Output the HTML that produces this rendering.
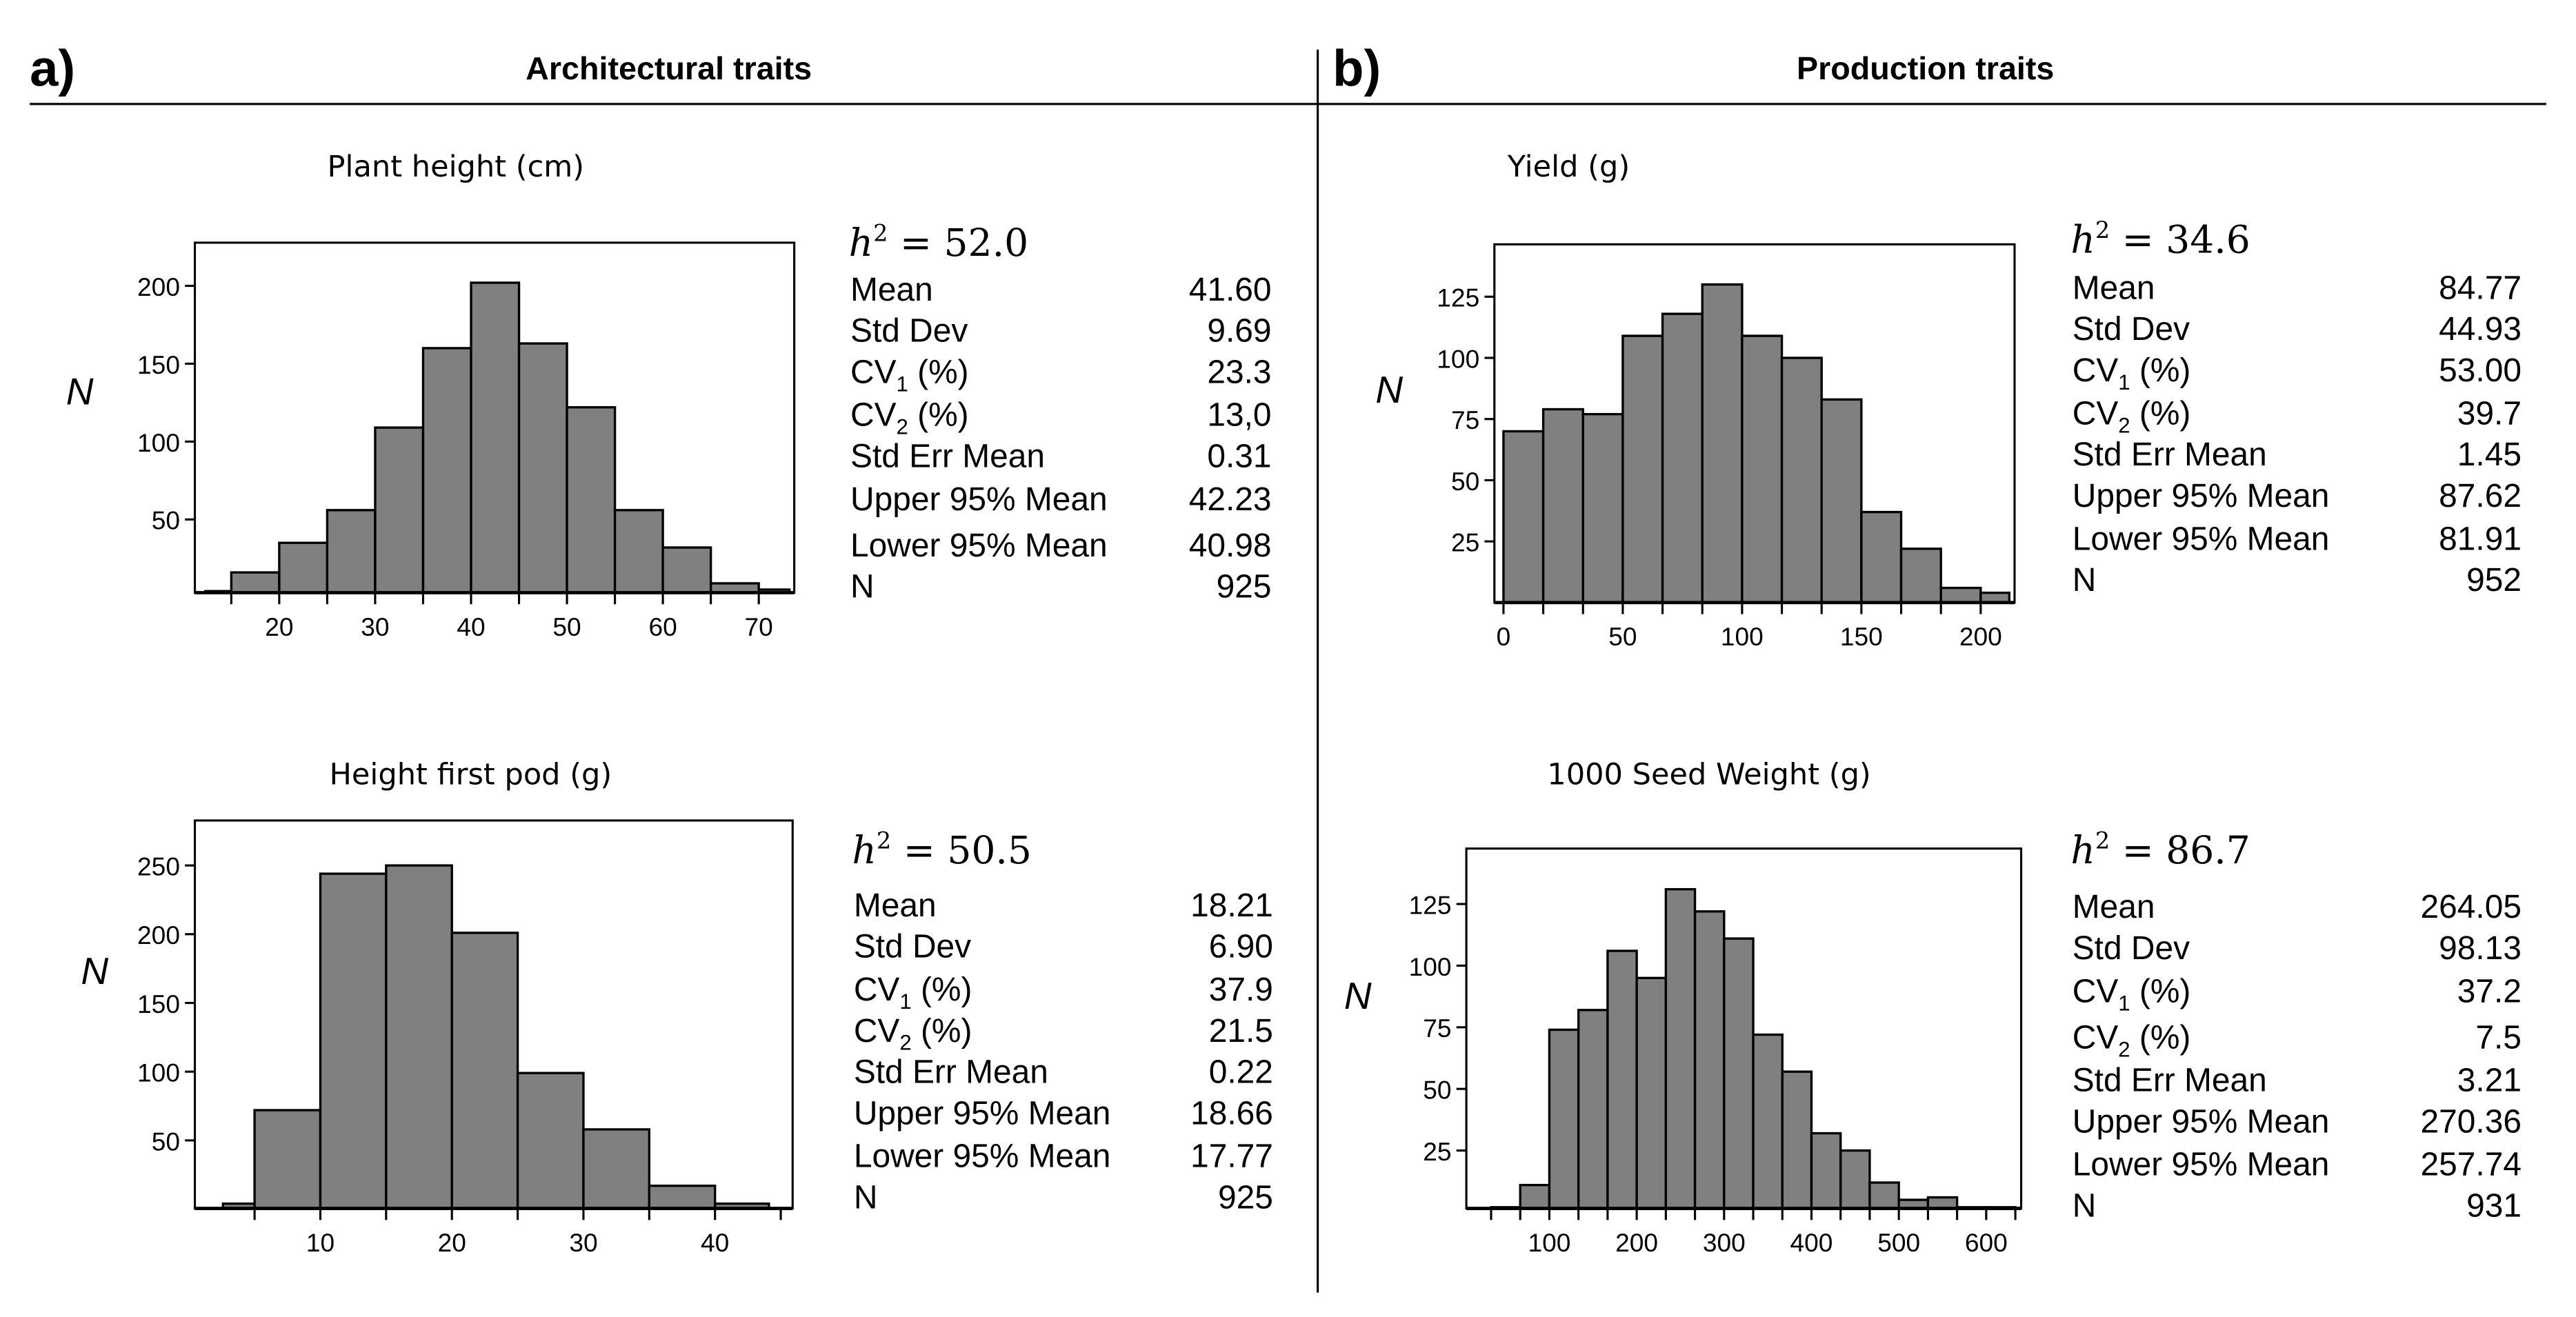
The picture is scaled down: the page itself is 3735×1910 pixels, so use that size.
<!DOCTYPE html>
<html><head><meta charset="utf-8">
<style>
html,body{margin:0;padding:0;background:#fff;}
svg{display:block;}
text{font-family:"Liberation Sans",Arial,sans-serif;fill:#000;}
.tk{font-size:15.5px;}
.st{font-size:20px;}
.ttl{font-size:18px;font-family:"DejaVu Sans","Liberation Sans",sans-serif;}
</style></head>
<body>
<svg id="fig" width="3735" height="1910" viewBox="0 0 1560 797.75" xmlns="http://www.w3.org/2000/svg">
<text x="18" y="52" style="font-size:31px;font-weight:bold">a)</text>
<text x="405" y="48" text-anchor="middle" style="font-size:19.5px;font-weight:bold">Architectural traits</text>
<text x="807" y="52" style="font-size:31px;font-weight:bold">b)</text>
<text x="1166" y="48" text-anchor="middle" style="font-size:19.5px;font-weight:bold">Production traits</text>
<line x1="18" y1="63" x2="1542" y2="63" stroke="#000" stroke-width="1.3"/>
<line x1="798" y1="30" x2="798" y2="783" stroke="#000" stroke-width="1.3"/>
<g id="charts"></g>
</svg>
<script>
// Plant height
const phCounts=[4,16,35,56,109,160,202,163,122,56,32,9,5];
const phStart=10, phWidth=5;
// Yield
const yCounts=[70,79,77,109,118,130,109,100,83,37,22,6,4];
const yStart=0, yWidth=16.667;
// Height first pod
const hpCounts=[4,72,244,250,201,99,58,17,4];
const hpStart=0, hpWidth=5;
// 1000 seed weight
const swCounts=[2,11,74,82,106,95,131,122,111,72,57,32,25,12,5,6,2,2];
const swStart=33.333, swWidth=33.333;

const phXLabels=[20,30,40,50,60,70], phYLabels=[50,100,150,200];
const yXLabels=[0,50,100,150,200], yYLabels=[25,50,75,100,125];
const hpXLabels=[10,20,30,40], hpYLabels=[50,100,150,200,250];
const swXLabels=[100,200,300,400,500,600], swYLabels=[25,50,75,100,125];

const phStats=["41.60","9.69","23.3","13,0","0.31","42.23","40.98","925"];
const yStats=["84.77","44.93","53.00","39.7","1.45","87.62","81.91","952"];
const hpStats=["18.21","6.90","37.9","21.5","0.22","18.66","17.77","925"];
const swStats=["264.05","98.13","37.2","7.5","3.21","270.36","257.74","931"];

const NS="http://www.w3.org/2000/svg";
const root=document.getElementById('charts');
function mk(tag,attrs,parent){const e=document.createElementNS(NS,tag);for(const k in attrs)e.setAttribute(k,attrs[k]);(parent||root).appendChild(e);return e;}

function chart(cfg){
  const g=mk('g',{});
  
  
  const L=cfg.box[0],T=cfg.box[1],R=cfg.box[2],B=cfg.box[3];
  const xs=v=>L+(v-cfg.xd[0])/(cfg.xd[1]-cfg.xd[0])*(R-L);
  const ys=v=>B-(v-cfg.yd[0])/(cfg.yd[1]-cfg.yd[0])*(B-T);
  const t=mk('text',{x:cfg.title[1],y:cfg.title[2],'text-anchor':'middle',class:'ttl'},g);
  t.textContent=cfg.title[0];
  
  
  cfg.counts.forEach((c,i)=>{
    let a=cfg.start+i*cfg.width,b=a+cfg.width;
    a=Math.max(a,cfg.clip[0]);b=Math.min(b,cfg.clip[1]);
    const r=mk('rect',{x:xs(a),y:ys(c),width:xs(b)-xs(a),height:B-ys(c),fill:'#808080',stroke:'#000','stroke-width':1.4},g);
    
    
  });
  const f=mk('rect',{x:L,y:T,width:R-L,height:B-T,fill:'none',stroke:'#000','stroke-width':1.3},g);
  
  
  mk('line',{x1:L,y1:B,x2:R,y2:B,stroke:'#000','stroke-width':2},g);
  for(let v=cfg.tickStart;v<=cfg.xd[1]+1e-6;v+=cfg.tickStep){
    if(v<cfg.xd[0])continue;
    mk('line',{x1:xs(v),y1:B,x2:xs(v),y2:B+7,stroke:'#000','stroke-width':1.3},g);
  }
  cfg.xl.forEach(v=>{
    const e=mk('text',{x:xs(v),y:B+26,'text-anchor':'middle',class:'tk'},g);e.textContent=v;
    
    
  });
  cfg.yl.forEach(v=>{
    mk('line',{x1:L-6,y1:ys(v),x2:L,y2:ys(v),stroke:'#000','stroke-width':1.3},g);
    const e=mk('text',{x:L-9,y:ys(v)+6,'text-anchor':'end',class:'tk'},g);e.textContent=v;
    
    
  });
  const n=mk('text',{x:cfg.nPos[0],y:cfg.nPos[1],style:'font-size:23px;font-style:italic'},g);n.textContent='N';
  
  
  const sg=mk('g',{},g);
  
  
  const h=mk('text',{x:cfg.sx,y:cfg.hy,style:'font-size:23px;font-family:\"DejaVu Serif\",\"Liberation Serif\",serif'},sg);
  h.innerHTML='<tspan font-style="italic">h</tspan><tspan dy="-9" style="font-size:14px">2</tspan><tspan dy="9"> = '+cfg.h2+'</tspan>';
  
  
  const labels=['Mean','Std Dev','CV<tspan dy="5" style="font-size:13px">1</tspan><tspan dy="-5"> (%)</tspan>','CV<tspan dy="5" style="font-size:13px">2</tspan><tspan dy="-5"> (%)</tspan>','Std Err Mean','Upper 95% Mean','Lower 95% Mean','N'];
  cfg.stats.forEach((v,i)=>{
    const y=cfg.rows[i];
    const a=mk('text',{x:cfg.sx+1,y:y,class:'st'},sg);a.innerHTML=labels[i];
    
    
    const b=mk('text',{x:cfg.vx,y:y,class:'st','text-anchor':'end'},sg);b.textContent=v;
    
    
  });
}

chart({name:'plant-height',box:[118,147,481,359],xd:[11.2,73.7],yd:[3,227.7],counts:phCounts,start:phStart,width:phWidth,clip:[12.3,73.2],
  tickStart:15,tickStep:5,xl:phXLabels,yl:phYLabels,title:['Plant height (cm)',276,107],nPos:[40,245],
  sx:514,vx:770,hy:155,h2:'52.0',stats:phStats,rows:[182,207,232,258,283,309,337,362]});
chart({name:'yield',box:[905,148,1220,365],xd:[-3.8,214.2],yd:[0,146.4],counts:yCounts,start:yStart,width:yWidth,clip:[0,212],
  tickStart:0,tickStep:16.667,xl:yXLabels,yl:yYLabels,title:['Yield (g)',950,107],nPos:[833,244],
  sx:1254,vx:1527,hy:153,h2:'34.6',stats:yStats,rows:[181,206,231,257,282,307,333,358]});
chart({name:'height-first-pod',box:[118,497,480,732],xd:[0.46,45.9],yd:[0.5,282.7],counts:hpCounts,start:hpStart,width:hpWidth,clip:[2.6,44.1],
  tickStart:5,tickStep:5,xl:hpXLabels,yl:hpYLabels,title:['Height first pod (g)',285,475],nPos:[49,596],
  sx:516,vx:771,hy:523,h2:'50.5',stats:hpStats,rows:[555,580,606,631,656,681,707,732]});
chart({name:'seed-weight',box:[888,514,1224,732],xd:[5,640],yd:[1.5,147.5],counts:swCounts,start:swStart,width:swWidth,clip:[0,700],
  tickStart:33.333,tickStep:33.333,xl:swXLabels,yl:swYLabels,title:['1000 Seed Weight (g)',1035,475],nPos:[814,611],
  sx:1254,vx:1527,hy:523,h2:'86.7',stats:swStats,rows:[556,581,607,635,661,686,712,737]});
</script>
</body></html>
